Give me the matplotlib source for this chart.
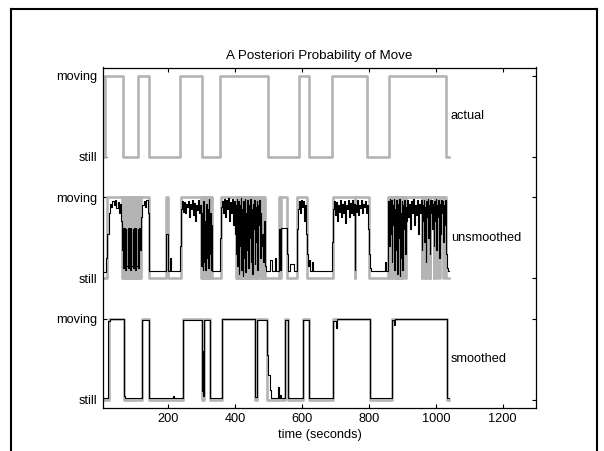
import numpy as np
import matplotlib
matplotlib.use("Agg")
import matplotlib.pyplot as plt
from matplotlib.lines import Line2D

plt.rcParams['font.family'] = ['Liberation Sans', 'DejaVu Sans']

# ---------------- data ----------------
# actual state: toggle times (s) and state after each time (0 = still, 1 = moving)
actual_t = [8, 11, 63, 110, 141, 236, 300, 355, 497, 591, 620, 689, 794, 860, 1031, 1040]
actual_s = [0, 1, 0, 1, 0, 1, 0, 1, 0, 1, 0, 1, 0, 1, 0, 0]

# unsmoothed posterior probability of "moving" (step samples)
unsm_t = [8, 14, 17, 21, 24, 28, 32, 36, 40, 44, 48, 52, 55, 58,
          61, 63, 64, 68, 69, 73, 74, 78, 79, 83, 84, 88, 89, 93, 94, 98,
          99, 103, 104, 108, 109, 113, 114,
          119, 122, 126, 130, 134, 138, 141,
          143, 192, 194, 199, 206, 209,
          236, 238, 241, 244, 247, 250, 253, 256, 259, 262, 264, 267, 270, 273, 276, 279,
          281, 284, 287, 290, 293, 296,
          298, 300, 302, 304, 306, 308, 310, 312, 314, 316, 318, 320, 322, 324, 326, 328,
          330,
          354, 356, 359, 362, 365, 368, 371, 374, 377, 380, 383, 386, 389, 392, 395, 398,
          400, 402, 404, 406, 408, 410, 412, 414, 416, 418, 420, 422, 424, 426, 428, 430,
          432, 434, 436, 438, 440, 442, 444, 446, 448, 450, 452, 454, 456, 458, 460, 462,
          464, 466, 468, 470, 472, 474, 476, 478,
          480, 483, 486, 489, 492, 505, 509, 520, 523, 530, 533, 536, 556, 559, 565, 575,
          586, 589, 592, 595, 598, 601, 604, 607, 610, 613, 616, 619, 622, 625,
          630, 633,
          688, 691, 694, 697, 700, 703, 706, 709, 712, 715, 718, 721, 724, 727, 730, 733,
          736, 739, 742, 745, 748, 751, 754, 757, 759, 762, 765, 768, 771, 774, 777, 780,
          783, 786, 789, 792, 795, 798, 800, 803, 806,
          848, 851, 856,
          858, 860, 862, 864, 866, 868, 870, 872, 874, 876, 878, 880, 882, 884, 886, 888,
          890, 892, 894, 896, 898, 900, 902, 904, 906, 908, 910, 912, 914, 917, 920, 923,
          926, 929, 932, 935, 938, 941, 944, 947, 950, 953, 956, 958, 960, 962, 964, 966,
          968, 970, 972, 974, 976, 978, 980, 982, 984, 986, 988, 990, 992, 994, 996, 998,
          1000, 1002, 1004, 1006, 1008, 1010, 1012, 1014, 1016, 1018, 1020, 1022, 1024,
          1026, 1028, 1030, 1033, 1036, 1040]
unsm_p = [0.08, 0.25, 0.55, 0.80, 0.92, 0.88, 0.95, 0.90, 0.97, 0.86, 0.94, 0.80, 0.92, 0.70,
          0.35, 0.62, 0.12, 0.62, 0.10, 0.60, 0.15, 0.62, 0.12, 0.62, 0.10, 0.62, 0.15, 0.60, 0.12, 0.62,
          0.10, 0.62, 0.15, 0.60, 0.12, 0.62, 0.35,
          0.75, 0.90, 0.95, 0.88, 0.96, 0.80, 0.40,
          0.09, 0.35, 0.55, 0.09, 0.25, 0.09,
          0.40, 0.85, 0.95, 0.82, 0.94, 0.80, 0.92, 0.88, 0.95, 0.75, 0.92, 0.85, 0.96, 0.78, 0.93, 0.70,
          0.90, 0.84, 0.96, 0.80, 0.90, 0.60,
          0.15, 0.80, 0.10, 0.95, 0.20, 0.70, 0.10, 0.92, 0.25, 0.85, 0.12, 0.98, 0.30, 0.80, 0.10, 0.65,
          0.09,
          0.50, 0.88, 0.95, 0.80, 0.98, 0.75, 0.96, 0.85, 0.99, 0.70, 0.94, 0.80, 0.98, 0.65, 0.95, 0.55,
          0.90, 0.30, 0.98, 0.15, 0.95, 0.05, 0.90, 0.40, 0.99, 0.10, 0.85, 0.02, 0.95, 0.25, 0.98, 0.08,
          0.80, 0.35, 0.96, 0.12, 0.90, 0.50, 0.98, 0.20, 0.85, 0.05, 0.92, 0.60, 0.97, 0.18, 0.88, 0.45,
          0.95, 0.10, 0.90, 0.65, 0.97, 0.25, 0.80, 0.40,
          0.55, 0.20, 0.70, 0.15, 0.09, 0.22, 0.09, 0.25, 0.09, 0.60, 0.10, 0.62, 0.30, 0.09, 0.18, 0.09,
          0.60, 0.85, 0.95, 0.80, 0.97, 0.88, 0.95, 0.70, 0.90, 0.55, 0.30, 0.15, 0.22, 0.09,
          0.20, 0.09,
          0.45, 0.85, 0.95, 0.78, 0.94, 0.70, 0.90, 0.82, 0.97, 0.75, 0.92, 0.80, 0.95, 0.68, 0.90, 0.85,
          0.96, 0.75, 0.93, 0.80, 0.97, 0.78, 0.92, 0.10, 0.90, 0.82, 0.96, 0.78, 0.90, 0.86, 0.97, 0.80,
          0.92, 0.88, 0.95, 0.80, 0.90, 0.60, 0.30, 0.12, 0.09,
          0.20, 0.09, 0.80,
          0.95, 0.40, 0.98, 0.55, 0.96, 0.20, 0.90, 0.65, 0.98, 0.10, 0.85, 0.35, 0.97, 0.05, 0.92, 0.50,
          0.98, 0.02, 0.80, 0.25, 0.95, 0.10, 0.90, 0.60, 0.97, 0.30, 0.88, 0.70, 0.96, 0.75, 0.92, 0.60,
          0.95, 0.80, 0.98, 0.65, 0.90, 0.78, 0.96, 0.55, 0.92, 0.80, 0.97, 0.35, 0.90, 0.70, 0.96, 0.45,
          0.88, 0.20, 0.95, 0.75, 0.98, 0.50, 0.90, 0.30, 0.96, 0.80, 0.97, 0.60, 0.92, 0.40, 0.95, 0.70,
          0.98, 0.35, 0.90, 0.75, 0.96, 0.25, 0.92, 0.55, 0.97, 0.80, 0.95, 0.45, 0.90,
          0.65, 0.96, 0.30, 0.12, 0.09, 0.09]

# smoothed MAP state: toggle times and state after each
smap_t = [7, 22, 68, 120, 143, 243, 300, 306, 323, 360, 458, 466, 496, 548, 558,
          604, 621, 692, 803, 868, 1033, 1040]
smap_s = [0, 1, 0, 1, 0, 1, 0, 1, 0, 1, 0, 1, 0, 1, 0, 1, 0, 1, 0, 1, 0, 0]

# smoothed posterior probability of "moving"
smp_t = [7, 20, 24, 67, 70, 120, 143, 213, 217, 243, 300, 302, 304, 306, 323, 360,
         458, 466, 496, 499, 503, 508, 527, 530, 535, 538, 548, 558, 604, 621, 692,
         701, 703, 803, 868, 876, 878, 1033, 1040]
smp_p = [0.02, 0.97, 0.99, 0.05, 0.02, 0.98, 0.02, 0.05, 0.02, 0.98, 0.10, 0.60, 0.05,
         0.98, 0.02, 0.99, 0.03, 0.98, 0.55, 0.30, 0.12, 0.02, 0.16, 0.02, 0.06, 0.02,
         0.98, 0.02, 0.98, 0.02, 0.97, 0.88, 0.99, 0.02, 0.98, 0.92, 0.99, 0.02, 0.02]

panel_offsets = {"actual": 3.0, "unsmoothed": 1.5, "smoothed": 0.0}
ytick_labels = ["still", "moving", "still", "moving", "still", "moving"]
xticks = [200, 400, 600, 800, 1000, 1200]

GRAY = "#b4b4b4"

# ---------------- figure ----------------
fig = plt.figure(figsize=(6.04, 4.51), dpi=100)
ax = fig.add_axes([103.3 / 604, 1 - 407.7 / 451, (536 - 103.3) / 604, (407.7 - 67.5) / 451])

off = panel_offsets
ax.plot(actual_t, np.array(actual_s) + off["actual"], drawstyle="steps-post",
        color=GRAY, lw=1.9)

unsm_state = (np.array(unsm_p) > 0.5).astype(float)
ax.plot(unsm_t, unsm_state + off["unsmoothed"], drawstyle="steps-post",
        color=GRAY, lw=1.9)
ax.plot(unsm_t, np.array(unsm_p) + off["unsmoothed"], drawstyle="steps-post",
        color="black", lw=0.8)

ax.plot(smap_t, np.array(smap_s) + off["smoothed"], drawstyle="steps-post",
        color=GRAY, lw=1.9)
ax.plot(smp_t, np.array(smp_p) + off["smoothed"], drawstyle="steps-post",
        color="black", lw=0.8)

for name, o in off.items():
    ax.text(1045, o + 0.5, name, ha="left", va="center", fontsize=9.2)

yt = []
for o in [off["smoothed"], off["unsmoothed"], off["actual"]]:
    yt += [o, o + 1]
ax.set_yticks(yt)
ax.set_yticklabels(ytick_labels)
ax.set_xticks(xticks)
ax.set_xlim(5, 1300)
ax.set_ylim(-0.1, 4.1)
ax.tick_params(direction="in", length=3, width=0.8, top=True, right=True,
               labelsize=9.2, pad=4)
for sp in ax.spines.values():
    sp.set_linewidth(0.9)
ax.set_xlabel("time (seconds)", fontsize=9.2, labelpad=3)
ax.set_title("A Posteriori Probability of Move", fontsize=9.6, pad=6)

# outer frame (left, top, right edges)
x0, x1 = 11 / 604, 597 / 604
y1 = 1 - 9 / 451
fig.add_artist(Line2D([x0, x0], [0, y1], color="black", lw=1.5, transform=fig.transFigure))
fig.add_artist(Line2D([x0, x1], [y1, y1], color="black", lw=1.5, transform=fig.transFigure))
fig.add_artist(Line2D([x1, x1], [0, y1], color="black", lw=1.5, transform=fig.transFigure))

fig.savefig("out.png", dpi=100)
